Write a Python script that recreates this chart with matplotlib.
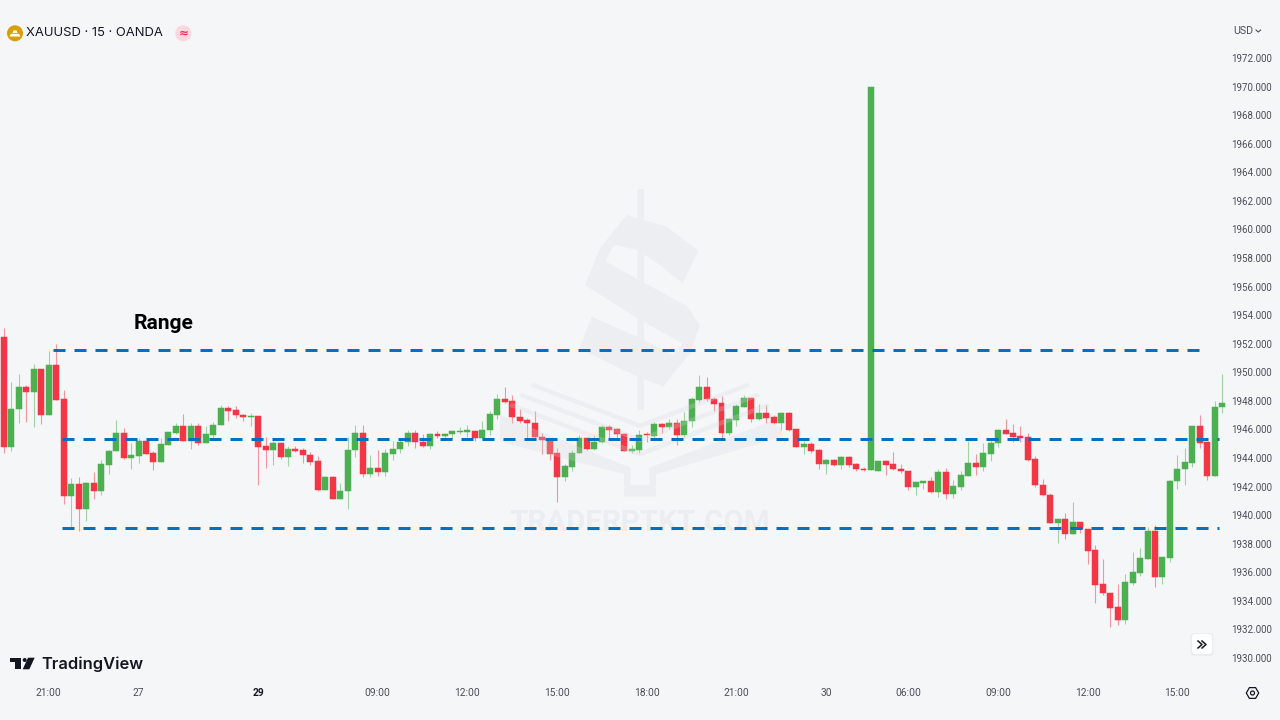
import matplotlib
matplotlib.use("Agg")
import matplotlib.pyplot as plt
from matplotlib.patches import Circle, FancyBboxPatch, PathPatch, Polygon, RegularPolygon
from matplotlib.path import Path
from matplotlib.transforms import Affine2D
from matplotlib.lines import Line2D

# XAUUSD 15-minute candles, one row per bar: open, high, low, close
candles = [
 (1952.49,1953.08,1944.37,1944.79),(1944.79,1949.34,1944.47,1947.45),(1947.41,1949.86,1946.43,1948.95),(1948.95,1949.11,1946.54,1948.62),
 (1948.62,1950.56,1946.15,1950.21),(1950.21,1950.21,1946.38,1947.03),(1947.03,1951.49,1947.03,1950.53),(1950.53,1951.96,1948.06,1948.06),
 (1948.11,1948.76,1940.78,1941.34),(1941.34,1942.58,1939.19,1942.18),(1942.18,1942.65,1938.91,1940.41),(1940.41,1942.30,1939.57,1942.27),
 (1942.27,1943.02,1941.11,1941.67),(1941.67,1943.86,1941.41,1943.58),(1943.53,1944.56,1942.88,1944.51),(1944.47,1946.66,1944.47,1945.73),
 (1945.73,1946.08,1943.91,1944.00),(1944.00,1945.03,1943.21,1944.19),(1944.14,1945.38,1943.63,1945.21),(1945.21,1945.21,1944.28,1944.28),
 (1944.33,1944.49,1943.16,1943.72),(1943.72,1945.38,1943.72,1944.98),(1944.93,1945.84,1944.91,1945.82),(1945.77,1946.43,1945.68,1946.24),
 (1946.24,1947.08,1945.21,1945.21),(1945.21,1946.43,1944.65,1946.24),(1946.24,1946.43,1944.91,1945.03),(1945.03,1946.24,1945.03,1945.68),
 (1945.63,1946.52,1945.38,1946.33),(1946.29,1947.71,1946.29,1947.50),(1947.50,1947.64,1946.61,1947.31),(1947.36,1947.64,1946.80,1946.99),
 (1947.03,1947.06,1946.61,1946.85),(1946.87,1947.13,1946.24,1946.94),(1946.94,1946.94,1942.09,1944.79),(1944.84,1945.45,1943.30,1944.56),
 (1944.56,1945.21,1943.49,1945.03),(1945.03,1945.12,1943.95,1944.09),(1944.09,1944.84,1943.44,1944.65),(1944.65,1944.84,1944.42,1944.51),
 (1944.56,1944.68,1943.67,1944.21),(1944.23,1944.40,1943.51,1943.74),(1943.77,1944.14,1941.71,1941.78),(1941.78,1942.74,1941.76,1942.69),
 (1942.69,1942.74,1941.11,1941.13),(1941.13,1942.23,1941.11,1941.71),(1941.69,1945.45,1940.41,1944.56),(1944.54,1946.29,1944.05,1945.73),
 (1945.73,1946.29,1942.65,1942.90),(1942.90,1944.19,1942.69,1943.30),(1943.30,1944.56,1942.74,1943.04),(1943.04,1944.61,1942.74,1944.33),
 (1944.30,1945.21,1943.86,1944.65),(1944.63,1945.38,1944.37,1945.14),(1945.14,1945.96,1944.84,1945.77),(1945.77,1945.96,1944.70,1945.14),
 (1945.14,1945.68,1944.75,1944.84),(1944.84,1945.73,1944.61,1945.68),(1945.66,1945.89,1945.40,1945.52),(1945.52,1945.77,1945.38,1945.66),
 (1945.66,1945.91,1945.35,1945.87),(1945.82,1946.19,1945.68,1945.91),(1945.84,1946.33,1945.49,1945.94),(1945.91,1945.91,1945.17,1945.38),
 (1945.38,1946.57,1945.31,1945.96),(1945.94,1947.27,1945.61,1947.08),(1947.03,1948.48,1946.71,1948.15),(1948.15,1948.99,1947.87,1947.94),
 (1947.97,1948.43,1946.47,1946.87),(1946.89,1947.45,1946.47,1946.61),(1946.66,1946.78,1945.38,1946.45),(1946.47,1947.27,1945.38,1945.47),
 (1945.49,1945.73,1944.28,1945.24),(1945.19,1945.19,1943.86,1944.28),(1944.33,1944.68,1940.94,1942.69),(1942.69,1943.58,1942.37,1943.42),
 (1943.39,1944.56,1943.07,1944.37),(1944.33,1945.59,1944.33,1945.38),(1945.38,1945.38,1944.56,1944.61),(1944.61,1945.59,1944.56,1945.14),
 (1945.14,1946.31,1945.03,1946.19),(1946.19,1946.33,1945.26,1945.96),(1946.01,1946.08,1945.38,1945.66),(1945.68,1945.73,1944.49,1944.51),
 (1944.51,1944.91,1944.37,1944.61),(1944.56,1945.96,1944.37,1945.63),(1945.66,1945.84,1945.14,1945.59),(1945.54,1946.54,1945.38,1946.38),
 (1946.38,1946.47,1945.73,1946.19),(1946.19,1946.71,1946.01,1946.43),(1946.43,1946.73,1944.89,1945.63),(1945.63,1947.22,1945.49,1946.61),
 (1946.57,1948.25,1946.19,1948.11),(1948.06,1949.81,1947.94,1948.95),(1948.95,1949.69,1948.01,1948.11),(1948.15,1948.29,1947.31,1947.80),
 (1947.83,1948.34,1945.38,1945.73),(1945.73,1946.78,1945.59,1946.71),(1946.66,1947.76,1946.24,1947.64),(1947.59,1948.39,1947.55,1948.20),
 (1948.20,1948.20,1946.54,1946.75),(1946.75,1947.78,1946.66,1947.13),(1947.13,1947.69,1946.43,1946.80),(1946.85,1947.01,1946.38,1946.43),
 (1946.43,1947.13,1945.96,1947.13),(1947.13,1947.22,1945.91,1945.96),(1946.01,1946.01,1944.75,1944.75),(1944.75,1945.17,1944.28,1944.98),
 (1944.98,1945.14,1944.37,1944.51),(1944.56,1944.61,1943.25,1943.58),(1943.58,1943.91,1942.88,1943.86),(1943.86,1943.91,1943.44,1943.49),
 (1943.49,1944.14,1943.21,1944.05),(1944.05,1944.14,1943.35,1943.53),(1943.58,1943.67,1943.11,1943.21),(1943.25,1943.39,1943.07,1943.14),
 (1943.14,1970.00,1943.14,1970.00),(1943.11,1943.81,1943.11,1943.77),(1943.77,1943.86,1942.81,1943.53),(1943.58,1944.42,1943.16,1943.21),
 (1943.25,1943.58,1942.93,1943.11),(1943.11,1943.11,1941.76,1941.99),(1941.99,1942.34,1941.39,1942.32),(1942.27,1942.39,1941.85,1942.37),
 (1942.37,1942.69,1941.57,1941.62),(1941.62,1943.23,1941.25,1943.02),(1943.02,1943.30,1941.11,1941.48),(1941.48,1942.46,1941.20,1942.04),
 (1941.99,1943.07,1941.76,1942.79),(1942.74,1945.21,1942.74,1943.67),(1943.67,1944.28,1942.79,1943.35),(1943.35,1945.03,1943.11,1944.33),
 (1944.28,1945.26,1943.77,1945.07),(1945.03,1946.01,1944.79,1945.96),(1945.96,1946.71,1945.68,1945.68),(1945.73,1946.38,1945.12,1945.45),
 (1945.54,1946.24,1945.12,1945.40),(1945.45,1945.73,1943.81,1943.86),(1943.91,1944.14,1941.99,1942.09),(1942.13,1942.51,1941.34,1941.39),
 (1941.43,1941.53,1939.43,1939.47),(1939.47,1939.75,1938.03,1939.71),(1939.71,1940.13,1938.35,1938.68),(1938.68,1940.94,1938.68,1939.52),
 (1939.52,1939.52,1938.77,1939.01),(1939.05,1939.05,1936.58,1937.51),(1937.56,1937.89,1933.87,1935.13),(1935.18,1936.95,1934.39,1934.53),
 (1934.57,1934.57,1932.15,1933.50),(1933.55,1935.18,1932.29,1932.66),(1932.66,1935.88,1932.38,1935.32),(1935.27,1937.42,1935.13,1936.02),
 (1935.97,1937.70,1935.74,1937.00),(1936.95,1939.15,1936.95,1938.91),(1938.91,1939.33,1934.95,1935.69),(1935.69,1937.05,1935.18,1937.05),
 (1936.99,1942.46,1936.72,1942.41),(1942.37,1944.23,1941.81,1943.25),(1943.21,1944.70,1942.13,1943.72),(1943.67,1946.24,1943.39,1946.24),
 (1946.24,1947.03,1944.70,1945.07),(1945.12,1945.14,1942.46,1942.74),(1942.74,1947.97,1942.74,1947.59),(1947.55,1949.88,1947.13,1947.83),
]
opens = [c[0] for c in candles]
highs = [c[1] for c in candles]
lows = [c[2] for c in candles]
closes = [c[3] for c in candles]

# Horizontal range levels: (price, first bar, last bar)
range_top = (1951.54, 6.6, 161.1)
range_mid = (1945.30, 7.75, 162.6)
range_low = (1939.08, 7.75, 162.6)

price_ticks = list(range(1930, 1974, 2))
time_positions = [6, 18, 34, 50, 62, 74, 86, 98, 110, 121, 133, 145, 157]
time_labels = ["21:00", "27", "29", "09:00", "12:00", "15:00", "18:00", "21:00", "30",
               "06:00", "09:00", "12:00", "15:00"]

BG = "#f5f6f8"
UP = "#4caf50"
DOWN = "#f23645"
LEVEL = "#0070c0"
INK = "#131722"
MUTED = "#4a4e59"
PX = 0.72  # points per pixel at 100 dpi
plt.rcParams["font.family"] = ["Roboto", "DejaVu Sans"]

fig = plt.figure(figsize=(12.8, 7.2), dpi=100, facecolor=BG)
ax = fig.add_axes([0, 40 / 720, 1226 / 1280, 680 / 720], facecolor=BG)
ax.set_xlim(-0.535, 163.50)
ax.set_ylim(1928.46, 1976.06)
for s in ax.spines.values():
    s.set_visible(False)

# Screen-pixel transform, origin at the top left
screen = Affine2D().scale(1, -1).translate(0, 720)
# Watermark outline is laid out on a 3x grid anchored at (500, 180)
mark = Affine2D().scale(1 / 3, 1 / 3).translate(500, 180) + screen

# Candles
for i, (o, h, l, c) in enumerate(zip(opens, highs, lows, closes)):
    col = UP if c >= o else DOWN
    ax.vlines(i, l, h, color=col, lw=1.1 * PX, alpha=0.5, zorder=2)
    ax.bar(i, abs(c - o), bottom=min(o, c), width=0.8, color=col, edgecolor=col, lw=0.35, zorder=3)

# Faint dollar-and-book watermark over the candles
wm = dict(facecolor="#d8dade", edgecolor="none", alpha=0.25, zorder=4, transform=mark, clip_on=False)
s_outline = [(380,105),(500,140),(595,212),(548,310),(480,255),(415,212),(350,195),(335,205),(318,245),
             (560,378),(600,435),(570,520),(490,620),(400,585),(238,505),(275,410),(410,470),(520,525),
             (548,490),(420,420),(255,315),(300,205)]
stem = [(412,27),(432,27),(432,690),(412,690)]
verts = s_outline + [s_outline[0]] + stem + [stem[0]]
codes = [Path.MOVETO] + [Path.LINETO] * (len(s_outline) - 1) + [Path.CLOSEPOLY] + \
        [Path.MOVETO] + [Path.LINETO] * 3 + [Path.CLOSEPOLY]
ax.add_patch(PathPatch(Path(verts, codes), **wm))
for pts in ([(98,608),(420,730),(743,608),(750,620),(420,745),(92,620)],
            [(64,638),(420,772),(773,638),(780,650),(420,787),(58,650)],
            [(34,668),(420,815),(803,668),(810,680),(420,830),(28,680)],
            [(0,705),(392,863),(392,915),(448,915),(448,863),(810,725),(845,745),(845,770),(468,883),
             (468,950),(372,950),(372,883),(0,785)]):
    ax.add_patch(Polygon(pts, closed=True, **wm))
ax.text(640 / 1280, 1 - 523 / 720, "TRADERPTKT.COM", transform=fig.transFigure, ha="center", va="center",
        fontsize=29.5 * PX, fontweight="bold", color="#d8dade", alpha=0.3, zorder=4)

# Range levels
for price, x0, x1 in (range_top, range_mid, range_low):
    ax.plot([x0, x1], [price, price], color=LEVEL, lw=3 * PX, linestyle=(0, (4, 3)),
            dash_capstyle="butt", zorder=5)
ax.text(134 / 1280, 1 - 323.5 / 720, "Range", transform=fig.transFigure, ha="left", va="center",
        fontsize=21 * PX, fontweight="bold", color="black", zorder=6)

# Axes
ax.yaxis.tick_right()
ax.set_yticks(price_ticks)
ax.set_yticklabels([f"{p}.000" for p in price_ticks])
ax.set_xticks(time_positions)
ax.set_xticklabels(time_labels)
ax.tick_params(axis="y", length=0, pad=3.6, labelsize=9.8 * PX, labelcolor=MUTED)
ax.tick_params(axis="x", length=0, pad=5.5, labelsize=10.3 * PX, labelcolor=MUTED)
for lab in ax.get_xticklabels():
    if lab.get_text() == "29":
        lab.set_fontweight("bold")
        lab.set_color(INK)

def overlay(artist):
    artist.set_transform(screen)
    artist.set_zorder(8)
    fig.add_artist(artist)
    return artist

def label(x, y, s, size, **kw):
    fig.text(x / 1280, 1 - y / 720, s, fontsize=size * PX, va="center", zorder=9, **kw)

# Symbol header
overlay(Circle((15, 33.3), 8, fc="#d99f0b", ec="none"))
overlay(Polygon([(9.5, 36.5), (20.5, 36.5), (19, 33.8), (11, 33.8)], fc="white", ec="none"))
overlay(Polygon([(12.5, 33), (17.5, 33), (16.5, 30.4), (13.5, 30.4)], fc="white", ec="none"))
label(26, 33.3, "XAUUSD · 15 · OANDA", 13, color=INK, ha="left", family="Inter")
overlay(Circle((183.3, 33.3), 8, fc="#f9d7de", ec="none"))
label(183.3, 33, "≈", 12, color="#e8335a", ha="center", fontweight="bold", family="DejaVu Sans")

# Currency selector
label(1233, 31, "USD", 10.6, color=MUTED, ha="left")
overlay(Line2D([1256, 1258.3, 1260.6], [30, 32, 30], color=MUTED, lw=0.8))

# Brand mark and name
overlay(Polygon([(10, 657.7), (20.7, 657.7), (20.7, 669.3), (14.7, 669.3), (14.7, 661.7), (10, 661.7)], fc=INK, ec="none"))
overlay(Circle((24.7, 660), 2, fc=INK, ec="none"))
overlay(Polygon([(28, 657.7), (34.7, 657.7), (29.3, 669.3), (22.7, 669.3)], fc=INK, ec="none"))
label(41, 664, "TradingView", 16.5, color=INK, ha="left", fontweight="semibold", family="Inter")

# Scroll-to-latest button
overlay(FancyBboxPatch((1190.5, 633), 23, 23, boxstyle="round,pad=0,rounding_size=4", fc="#ecedf0", ec="none"))
overlay(FancyBboxPatch((1192, 634), 20, 20, boxstyle="round,pad=0,rounding_size=3", fc="white", ec="none"))
overlay(Line2D([1198, 1202, 1198], [641, 644.5, 648], color=INK, lw=1.1))
overlay(Line2D([1202, 1206, 1202], [641, 644.5, 648], color=INK, lw=1.1))

# Settings gear
overlay(RegularPolygon((1252.5, 693), 6, radius=6.2, orientation=0.5236, fc="none", ec=INK, lw=0.9))
overlay(Circle((1252.5, 693), 2, fc="none", ec=INK, lw=0.9))

fig.savefig("out.png", dpi=100, facecolor=BG)
